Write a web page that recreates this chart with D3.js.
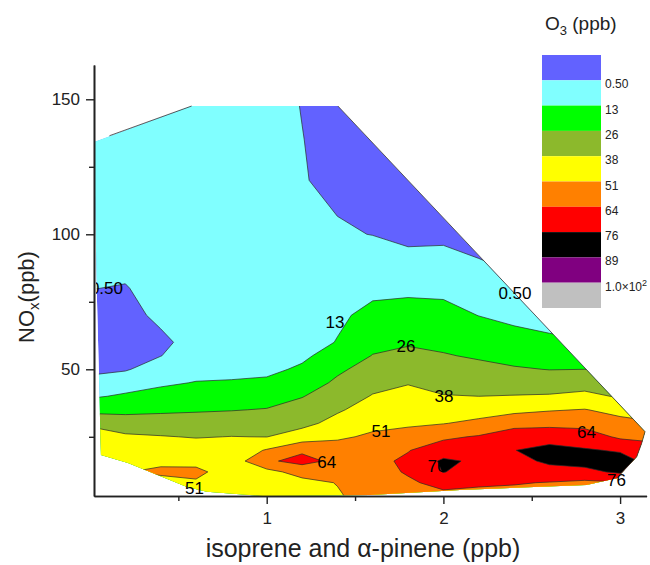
<!DOCTYPE html>
<html>
<head>
<meta charset="utf-8">
<script src="https://cdn.jsdelivr.net/npm/d3@7"></script>
<style>
  body { margin: 0; background: #fff; }
  text { font-family: "Liberation Sans", Arial, sans-serif; }
</style>
</head>
<body>
<div id="chart"></div>
<script>
// grid positions of the O3 estimates
var xGrid = [0, 0.2, 0.4, 0.6, 0.8, 1.0, 1.2, 1.4, 1.6, 1.8, 2.0, 2.2, 2.4, 2.6, 2.8, 3.0, 3.2];
var yGrid = [0, 4, 8, 12, 16, 20, 25, 30, 35, 40, 45, 50, 55, 60, 70, 80, 90, 100, 110, 120, 135, 150];

// O3 (ppb), one row per NOx value in yGrid, one column per xGrid value
var o3 = [
  [48.5, 49, 46, 47, 46, 44, 45, 49, 55, 58, 61, 59, 58, 57, 56, 55, 54],
  [49, 49.5, 46, 48, 47, 45, 46, 50, 57, 60, 62.5, 61, 61, 60, 59, 58, 57],
  [49.5, 49.5, 46, 50, 47.5, 46, 47, 51.5, 59, 62.5, 67, 66, 64.8, 63.5, 61.5, 63, 62],
  [49.5, 50.5, 53.5, 53, 47, 47, 56, 57, 60, 65, 76.5, 70, 69, 72, 73, 78, 70],
  [49.5, 49, 48.2, 48.5, 44, 62, 68, 61, 61, 66, 78, 74, 72.5, 78, 80, 80, 72],
  [49, 44, 43.9, 43.6, 43, 52, 62, 57, 58, 63.5, 70, 71, 75.8, 79, 77, 75, 70],
  [47, 39.9, 38.6, 37.4, 38.2, 37.8, 44, 49, 53, 56, 62, 65, 70.5, 72, 70, 62, 60],
  [34.8, 31.4, 31.3, 31, 32, 32.4, 34.5, 42, 47.7, 49, 50.5, 54, 60, 60.5, 60, 55, 52],
  [22.6, 23, 24, 24.9, 25.5, 26.6, 30.5, 36.5, 43.2, 45.3, 45, 45.3, 47.5, 50, 51.5, 47, 44],
  [11.4, 14.7, 17.3, 19.2, 20, 20.9, 25.5, 32, 38.7, 41.4, 38.5, 38, 38.5, 39, 40.5, 37, 35],
  [4.5, 7.3, 11.1, 13.5, 14.2, 15.3, 20, 28, 34.6, 37.4, 34.5, 33.6, 32.7, 32.5, 34, 31, 29],
  [-2.5, -0.5, 5.8, 9, 9, 10, 15, 24, 30.5, 33.1, 30.6, 29.1, 27.1, 25.7, 26, 24, 22],
  [-3, -2.5, 0.3, 6, 6.5, 7, 10.5, 19, 26.4, 28.8, 26.8, 24.7, 22.3, 20.8, 20, 18, 16],
  [-3.5, -3, -1.5, 4, 5, 5.5, 8, 13.5, 22.9, 24.8, 23.4, 20.8, 18, 15.5, 14, 12, 10],
  [-2.5, -2.5, 2.5, 3.5, 4, 4, 5.5, 11, 16.1, 17.6, 16.8, 12.8, 9.8, 8, 6, 4, 2],
  [0.7, 0, 4, 4.5, 4.5, 3.5, 4, 5.5, 10.3, 10.6, 10.3, 6.9, 3.5, 1.5, 0, -2, -4],
  [2.5, 3, 5, 5.5, 5.5, 4, 3.5, 3.5, 5.3, 4, 4.1, 1.1, -2, -3, -4, -6, -8],
  [3.5, 4, 5.5, 6, 6, 4.5, 3, 1.5, 0.3, -2.5, -2, -4.5, -6, -6, -7, -8, -8],
  [4, 4.5, 6, 6.5, 6.5, 5, 2.5, 0, -4, -5, -5, -7, -8, -8, -8, -8, -8],
  [4.5, 5, 6, 6.5, 6.5, 5, 1.5, -3.5, -6, -7, -7, -8, -8, -8, -8, -8, -8],
  [5, 5.5, 6, 6.5, 6.5, 5, 0.8, -4, -7, -8, -8, -8, -8, -8, -8, -8, -8],
  [5, 5.5, 6, 6.5, 6.5, 5, 0, -4.5, -7, -8, -8, -8, -8, -8, -8, -8, -8]
];

// outline of the measured region [isoprene+pinene, NOx]
var hull = [
  [0.023, 134.2], [0.575, 147.5], [1.403, 147.5], [3.141, 26.9], [3.122, 22.6],
  [3.094, 17.6], [2.98, 9.6], [2.81, 7.15], [2.094, 5.3], [1.585, 3.4],
  [0.98, 3.07], [0.662, 4.6], [0.549, 6.4], [0.215, 15.3], [0.062, 18.3], [0.038, 79.4]
];

var levels = [0.5, 13, 26, 38, 51, 64, 76, 89, 100];
var levelLabels = ['0.50', '13', '26', '38', '51', '64', '76', '89', '1.0\u00d710'];
var bandColors = ['#6262ff', '#80ffff', '#00ff00', '#8cb92c', '#ffff00', '#ff8000',
  '#ff0000', '#000000', '#800080', '#c0c0c0'];

var contourLabels = [
  { text: '0.50', x: 0.093, y: 80.1 },
  { text: '0.50', x: 2.405, y: 78.4 },
  { text: '13', x: 1.387, y: 67.6 },
  { text: '26', x: 1.788, y: 58.8 },
  { text: '38', x: 2.003, y: 40.1 },
  { text: '51', x: 1.647, y: 27.1 },
  { text: '51', x: 0.591, y: 6.2 },
  { text: '64', x: 1.34, y: 15.8 },
  { text: '64', x: 2.81, y: 26.9 },
  { text: '76', x: 1.964, y: 14 },
  { text: '76', x: 2.98, y: 9.0 }
];

var width = 650, height = 565;

var svg = d3.select('#chart').append('svg')
  .attr('width', width)
  .attr('height', height);

var x = d3.scaleLinear().domain([0.0226, 3.15]).range([94, 646.6]);
var y = d3.scaleLinear().domain([3.07, 162.7]).range([496, 65]);

// grid index -> data value
var ix = d3.scaleLinear().domain(d3.range(xGrid.length)).range(xGrid);
var iy = d3.scaleLinear().domain(d3.range(yGrid.length)).range(yGrid);

var gridPath = d3.geoPath(d3.geoTransform({
  point: function (px, py) {
    this.stream.point(x(ix(px - 0.5)), y(iy(py - 0.5)));
  }
}));

var hullLine = d3.line()
  .x(function (d) { return x(d[0]); })
  .y(function (d) { return y(d[1]); });

svg.append('clipPath').attr('id', 'hull-clip')
  .append('path').attr('d', hullLine(hull) + 'Z');

var plot = svg.append('g').attr('clip-path', 'url(#hull-clip)');

plot.append('path')
  .attr('d', hullLine(hull) + 'Z')
  .attr('fill', bandColors[0]);

var contours = d3.contours()
  .size([xGrid.length, yGrid.length])
  .thresholds(levels)(o3.flat());

plot.selectAll('path.band')
  .data(contours)
  .enter()
  .append('path')
  .attr('class', 'band')
  .attr('d', gridPath)
  .attr('fill', function (d, i) { return bandColors[i + 1]; })
  .attr('stroke', '#2a2a2a')
  .attr('stroke-width', 0.7)
  .attr('stroke-linejoin', 'round');

// outline along the upper right edge
svg.append('path')
  .attr('d', hullLine(hull.slice(2, 7)))
  .attr('fill', 'none')
  .attr('stroke', '#333')
  .attr('stroke-width', 0.8);
svg.append('path')
  .attr('d', hullLine([[0.11, 136.5], hull[1]]))
  .attr('fill', 'none')
  .attr('stroke', '#333')
  .attr('stroke-width', 0.8);

svg.append('clipPath').attr('id', 'label-clip')
  .append('rect').attr('x', 96).attr('y', 60).attr('width', 560).attr('height', 440);

svg.append('g').attr('clip-path', 'url(#label-clip)')
  .selectAll('text')
  .data(contourLabels)
  .enter()
  .append('text')
  .attr('x', function (d) { return x(d.x); })
  .attr('y', function (d) { return y(d.y) + 6; })
  .attr('text-anchor', 'middle')
  .style('font-size', '17px')
  .attr('fill', '#000')
  .text(function (d) { return d.text; });

// axes
function styleAxis(g) {
  g.selectAll('path.domain').attr('stroke', '#222').attr('stroke-width', 1.6);
  g.selectAll('line').attr('stroke', '#222').attr('stroke-width', 1.4);
  g.selectAll('text').style('font-size', '17px').attr('fill', '#222');
}

svg.append('g')
  .attr('transform', 'translate(94,0)')
  .call(d3.axisLeft(y).tickValues([25, 75, 125]).tickSize(5).tickSizeOuter(0).tickFormat(''))
  .call(styleAxis);
svg.append('g')
  .attr('transform', 'translate(94,0)')
  .call(d3.axisLeft(y).tickValues([50, 100, 150]).tickSize(8).tickSizeOuter(0).tickPadding(6))
  .call(styleAxis);

svg.append('g')
  .attr('transform', 'translate(0,496)')
  .call(d3.axisBottom(x).tickValues([0.5, 1.5, 2.5]).tickSize(5).tickSizeOuter(0).tickFormat(''))
  .call(styleAxis);
svg.append('g')
  .attr('transform', 'translate(0,496)')
  .call(d3.axisBottom(x).tickValues([1, 2, 3]).tickSize(8).tickSizeOuter(0).tickPadding(8)
    .tickFormat(d3.format('d')))
  .call(styleAxis);

var yTitle = svg.append('text')
  .attr('transform', 'translate(34,297) rotate(-90)')
  .attr('text-anchor', 'middle')
  .style('font-size', '22px')
  .attr('fill', '#222');
yTitle.append('tspan').text('NO');
yTitle.append('tspan').attr('dy', 5).style('font-size', '15px').text('x');
yTitle.append('tspan').attr('dy', -5).text('(ppb)');

svg.append('text')
  .attr('x', 363)
  .attr('y', 557)
  .attr('text-anchor', 'middle')
  .style('font-size', '25px')
  .attr('fill', '#222')
  .text('isoprene and \u03b1-pinene (ppb)');

// colour scale legend
var legend = svg.append('g');
var boxH = 25.3;

var lTitle = legend.append('text')
  .attr('x', 545)
  .attr('y', 30)
  .style('font-size', '19px')
  .attr('fill', '#222');
lTitle.append('tspan').text('O');
lTitle.append('tspan').attr('dy', 5).style('font-size', '13px').text('3');
lTitle.append('tspan').attr('dy', -5).text(' (ppb)');

legend.selectAll('rect')
  .data(bandColors)
  .enter()
  .append('rect')
  .attr('x', 542)
  .attr('y', function (d, i) { return 55 + i * boxH; })
  .attr('width', 59)
  .attr('height', boxH)
  .attr('fill', function (d) { return d; });

var lt = legend.selectAll('text.lvl')
  .data(levelLabels)
  .enter()
  .append('text')
  .attr('class', 'lvl')
  .attr('x', 605)
  .attr('y', function (d, i) { return 55 + (i + 1) * boxH + 8; })
  .style('font-size', '12px')
  .attr('fill', '#222')
  .text(function (d) { return d; });
lt.filter(function (d, i) { return i === levelLabels.length - 1; })
  .append('tspan').attr('dy', -5).style('font-size', '9px').text('2');
</script>
</body>
</html>
